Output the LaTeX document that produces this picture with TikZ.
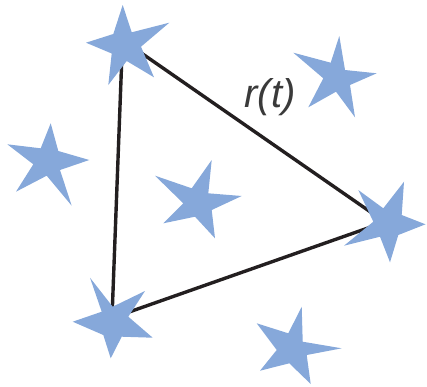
\documentclass[tikz,border=0pt]{standalone}
\usepackage{fontspec}
\setsansfont{Liberation Sans}
\definecolor{starblue}{RGB}{134,168,218}
\definecolor{linegray}{RGB}{35,31,32}
\definecolor{labelgray}{RGB}{58,58,58}

\begin{document}
\begin{tikzpicture}[x=1pt, y=-1pt,
    starfill/.style={fill=starblue},
    tri/.style={line width=3.4pt, color=linegray, line join=round}]
    \useasboundingbox (0,0) rectangle (427,386);
    % triangle corners (star centres)
    \coordinate (ptop) at (122.5,40);
    \coordinate (pright) at (385,222);
    \coordinate (pbot) at (112,318);
    \draw[tri] (ptop) -- (pright) -- (pbot) -- cycle;
    \node[labelgray, font=\sffamily\itshape\fontsize{40}{48}\selectfont] (lbl) at (270,97) {r(t)};
    % stars on the corners
    \fill[starfill] (122.7,5) -- (131.7,32.3) -- (169.3,22.7) -- (141,46.7) -- (154,77.3)
        -- (126.7,61) -- (108.3,85) -- (111.7,53.5) -- (86,42.7) -- (113.3,34) -- cycle;
    \fill[starfill] (358.3,190) -- (383.3,208.3) -- (404,181.7) -- (401.7,215) -- (425.5,224.3)
        -- (398.3,235) -- (390,262.3) -- (380,236.7) -- (344,245.7) -- (373.3,221.7) -- cycle;
    \fill[starfill] (90,277.7) -- (112.7,306.7) -- (145,291) -- (128.3,316.7) -- (152.7,337.7)
        -- (121.7,336.7) -- (110.7,358.3) -- (103.3,335) -- (72.7,321.7) -- (101.7,311.7) -- cycle;
    % free stars
    \fill[starfill] (339.3,36) -- (345,70) -- (376.7,73.3) -- (350,85) -- (355,117.3)
        -- (336,91.7) -- (308.3,107.3) -- (323.3,78.3) -- (293.3,52.7) -- (330.7,62.7) -- cycle;
    \fill[starfill] (50.7,123.3) -- (58.3,151) -- (89.3,160) -- (60,170) -- (71.7,205.7)
        -- (46.7,175.7) -- (16,191.7) -- (33.3,164.3) -- (7.3,144.3) -- (40.7,148.3) -- cycle;
    \fill[starfill] (211.7,160) -- (208.3,193.3) -- (241.7,196) -- (211.7,210) -- (215,238.3)
        -- (195,216.7) -- (163.3,223.3) -- (183.3,203.3) -- (155,175.7) -- (191.7,188.3) -- cycle;
    \fill[starfill] (301.7,306.7) -- (302.7,341.7) -- (341.7,348.3) -- (306.7,355) -- (310.7,384)
        -- (289.3,363.3) -- (260,370.7) -- (276.7,350) -- (256.7,323.3) -- (288.3,333.3) -- cycle;
\end{tikzpicture}
\end{document}
